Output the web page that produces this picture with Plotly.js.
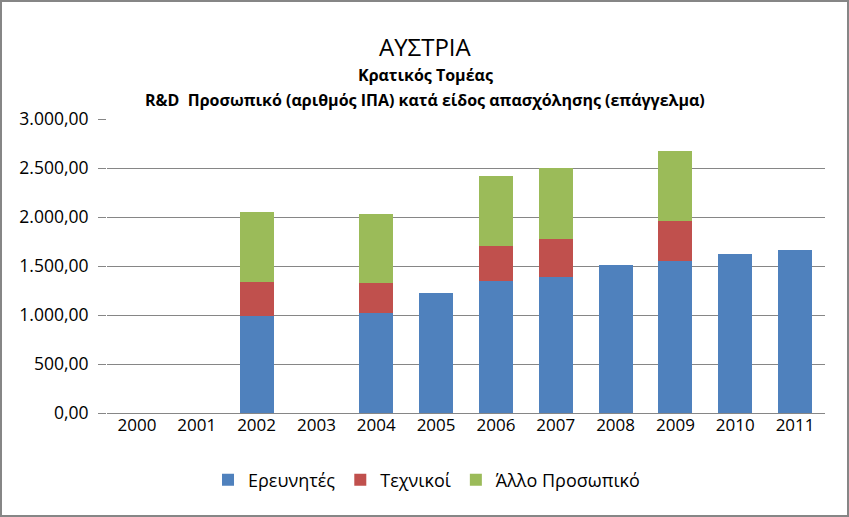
<!DOCTYPE html>
<html>
<head>
<meta charset="utf-8">
<script src="https://cdn.plot.ly/plotly-3.0.1.min.js"></script>
<style>
  body { margin: 0; background: #fff; }
  #grafico { width: 845px; height: 513px; border: 2px solid #868686; }
</style>
</head>
<body>
<div id="grafico"></div>
<script>
// Δεδομένα ανά έτος (null = δεν υπάρχει τιμή)
const years = ['2000', '2001', '2002', '2003', '2004', '2005', '2006', '2007', '2008', '2009', '2010', '2011']
const erevnites = [null, null, 993, null, 1024, 1224, 1350, 1391, 1510, 1554, 1622, 1663]
const texnikoi = [null, null, 347, null, 306, null, 354, 388, null, 409, null, null]
const allo = [null, null, 711, null, 701, null, 714, 718, null, 710, null, null]

const seriesNames = ['Ερευνητές', 'Τεχνικοί', 'Άλλο Προσωπικό']
const seriesColors = ['#4f81bd', '#c0504d', '#9bbb59']
const titleLines = ['ΑΥΣΤΡΙΑ', '<b>Κρατικός Τομέας</b>', '<b>R&D  Προσωπικό (αριθμός ΙΠΑ) κατά είδος απασχόλησης (επάγγελμα)</b>']

const data = [erevnites, texnikoi, allo].map((vals, i) => ({
  x: years,
  y: vals,
  name: seriesNames[i],
  type: 'bar',
  marker: { color: seriesColors[i] },
  hoverinfo: 'x+y+name'
}))

const font = '"Open Sans", "Noto Sans", sans-serif'

// τίτλος σε τρεις γραμμές, η καθεμία σαν annotation
const titleY = [1.245, 1.15, 1.065]
const titleSize = [24, 16, 16]
const annotations = titleLines.map((t, i) => ({
  text: t,
  xref: 'paper', yref: 'paper',
  x: 0.443, y: titleY[i],
  xanchor: 'center', yanchor: 'middle',
  showarrow: false,
  font: { family: font, size: titleSize[i], color: '#000' }
}))

const layout = {
  barmode: 'stack',
  bargap: 0.43,
  separators: ',.',
  width: 845,
  height: 513,
  margin: { l: 105, r: 22, t: 117, b: 102 },
  paper_bgcolor: '#fff',
  plot_bgcolor: '#fff',
  font: { family: font, color: '#000', size: 17 },
  annotations: annotations,
  xaxis: {
    type: 'category',
    showgrid: false,
    showline: false,
    ticks: '',
    tickfont: { family: font, size: 17 },
    fixedrange: true
  },
  yaxis: {
    range: [0, 3000],
    dtick: 500,
    tickformat: ',.2f',
    showgrid: true,
    gridcolor: '#868686',
    gridwidth: 1,
    zeroline: true,
    zerolinecolor: '#868686',
    zerolinewidth: 1,
    ticks: 'outside',
    ticklen: 8,
    tickcolor: '#868686',
    ticklabelstandoff: 6,
    tickfont: { family: font, size: 17.5 },
    fixedrange: true
  },
  showlegend: true,
  legend: {
    orientation: 'h',
    x: 0.445,
    xanchor: 'center',
    y: -0.165,
    yanchor: 'top',
    font: { family: font, size: 18 },
    itemwidth: 30,
    traceorder: 'normal'
  }
}

Plotly.newPlot('grafico', data, layout, { displayModeBar: false })
</script>
</body>
</html>
